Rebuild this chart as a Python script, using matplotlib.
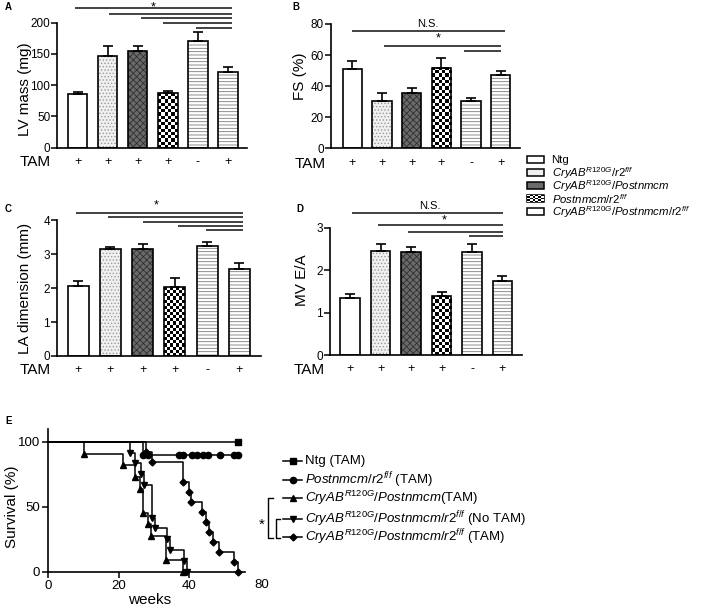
import numpy as np
import matplotlib
matplotlib.use('Agg')
import matplotlib.pyplot as plt
from matplotlib.patches import Rectangle

plt.rcParams['font.family'] = ['Liberation Sans', 'DejaVu Sans']
plt.rcParams['mathtext.fontset'] = 'custom'
plt.rcParams['mathtext.rm'] = 'Liberation Sans'
plt.rcParams['mathtext.it'] = 'Liberation Sans:italic'
plt.rcParams['mathtext.bf'] = 'Liberation Sans:bold'
plt.rcParams['hatch.linewidth'] = 0.6

W, H = 709, 608

# ---- bar panels data ----
tam = ['+', '+', '+', '+', '-', '+']
lv_mass = [86, 147, 154, 88, 171, 121]
lv_mass_sem = [3.6, 15, 9.4, 2.7, 13.6, 7.4]
fs = [51, 30.4, 35.4, 51.5, 30.4, 47.2]
fs_sem = [5.2, 5.4, 3.6, 6.4, 2.2, 2.5]
la_dim = [2.06, 3.15, 3.16, 2.03, 3.24, 2.57]
la_dim_sem = [0.16, 0.07, 0.14, 0.28, 0.13, 0.16]
mv_ea = [1.34, 2.46, 2.43, 1.39, 2.43, 1.75]
mv_ea_sem = [0.09, 0.16, 0.12, 0.10, 0.19, 0.12]

groups = ['Ntg',
          r'$\mathit{CryAB}^{\mathit{R120G}}\mathit{/r2}^{\mathit{f/f}}$',
          r'$\mathit{CryAB}^{\mathit{R120G}}\mathit{/Postnmcm}$',
          r'$\mathit{Postnmcm/r2}^{\mathit{f/f}}$',
          r'$\mathit{CryAB}^{\mathit{R120G}}\mathit{/Postnmcm/r2}^{\mathit{f/f}}$']
bar_group = [0, 1, 2, 3, 4, 4]

# significance bars: (start, end, level)
sig_a = [(-0.1, 5.15, 223), (1.05, 5.15, 214), (2.1, 5.15, 207), (2.85, 5.15, 199), (3.95, 5.15, 192)]
sig_b = [(0.0, 5.16, 75.7), (1.07, 5.0, 66), (3.76, 5.0, 62.6)]
sig_c = [(-0.07, 5.12, 4.23), (0.93, 5.12, 4.11), (2.0, 5.12, 3.96), (3.1, 5.12, 3.84), (3.96, 5.12, 3.72)]
sig_d = [(0.06, 5.03, 3.35), (0.93, 5.03, 3.07), (1.91, 5.03, 2.91), (3.91, 5.03, 2.81)]

# ---- survival data (weeks, % survival) ----
ntg_t = [0, 53.7]
ntg_s = [100, 100]
postn_t = [0, 27.0, 28.3, 37.0, 38.2, 40.8, 42.1, 43.8, 45.4, 48.7, 52.6, 53.7]
postn_s = [100, 90, 90, 90, 90, 90, 90, 90, 90, 90, 90, 90]
cry_t = [0, 10, 21.2, 24.5, 25.9, 27.0, 28.3, 29.2, 33.4, 38.2]
cry_s = [100, 90.9, 81.8, 72.7, 63.6, 45.5, 36.4, 27.3, 9.1, 0]
notam_t = [0, 23.1, 24.6, 26.2, 27.1, 29.4, 30.4, 33.6, 34.4, 38.4, 39.3]
notam_s = [100, 91.7, 83.3, 75.0, 66.7, 41.7, 33.3, 25.0, 16.7, 8.3, 0]
tamko_t = [0, 27.8, 29.4, 38.2, 39.8, 40.5, 43.6, 44.8, 45.7, 46.6, 48.5, 52.6, 53.7]
tamko_s = [100, 92.3, 84.6, 69.2, 61.5, 53.8, 46.2, 38.5, 30.8, 23.1, 15.4, 7.7, 0]

surv_labels = ['Ntg (TAM)',
               r'$\mathit{Postnmcm/r2}^{\mathit{f/f}}$ (TAM)',
               r'$\mathit{CryAB}^{\mathit{R120G}}\mathit{/Postnmcm}$(TAM)',
               r'$\mathit{CryAB}^{\mathit{R120G}}\mathit{/Postnmcm/r2}^{\mathit{f/f}}$ (No TAM)',
               r'$\mathit{CryAB}^{\mathit{R120G}}\mathit{/Postnmcm/r2}^{\mathit{f/f}}$ (TAM)']
surv_curves = [(ntg_t, ntg_s, 's', 4.5), (postn_t, postn_s, 'o', 4.5), (cry_t, cry_s, '^', 4.5),
               (notam_t, notam_s, 'v', 4.5), (tamko_t, tamko_s, 'D', 3.5)]

fig = plt.figure(figsize=(W / 100, H / 100), dpi=100)


def add_ax(l, t, r, b):
    return fig.add_axes([l / W, 1 - b / H, (r - l) / W, (b - t) / H])


def ftext(x, y, s, **kw):
    return fig.text(x / W, 1 - y / H, s, **kw)


def checker(ax, x0, x1, y0, y1, cell=3.2):
    p0 = ax.transData.transform((x0, y0))
    p1 = ax.transData.transform((x1, y1))
    nx = max(1, int(round(abs(p1[0] - p0[0]) / cell)))
    ny = max(1, int(round(abs(p1[1] - p0[1]) / cell)))
    img = np.indices((ny, nx)).sum(axis=0) % 2
    ax.imshow(img, cmap='gray', vmin=0, vmax=1, extent=(x0, x1, min(y0, y1), max(y0, y1)),
              aspect='auto', interpolation='nearest', zorder=2)


styles = [dict(color='white'),
          dict(color='#f0f0f0', hatch='.....', edgecolor='#9a9a9a'),
          dict(color='#6a6a6a', hatch='xxxxx', edgecolor='#303030'),
          'checker',
          dict(color='white', hatch='-----', edgecolor='#7a7a7a')]


def bar_panel(box, xl, ymax, yticks, vals, sems, ylabel, ylab_pos, sigs, letter, tam_pos):
    ax = add_ax(*box)
    ax.set_xlim(*xl)
    ax.set_ylim(0, ymax)
    for i, v in enumerate(vals):
        st = styles[bar_group[i]]
        if st == 'checker':
            checker(ax, i - 0.325, i + 0.325, 0, v)
        else:
            ax.bar(i, v, 0.65, linewidth=0, zorder=2, **st)
        ax.bar(i, v, 0.65, fill=False, edgecolor='black', linewidth=1.2, zorder=3)
    ax.errorbar(range(len(vals)), vals, yerr=[np.zeros(len(vals)), sems], fmt='none',
                ecolor='black', elinewidth=1.2, capsize=3.5, capthick=1.2, zorder=4)
    ax.set_xlim(*xl)
    ax.set_ylim(0, ymax)
    for x0, x1, lvl in sigs:
        ax.plot([x0, x1], [lvl, lvl], color='#222222', lw=1.2, clip_on=False, solid_capstyle='butt')
    for s in ['top', 'right']:
        ax.spines[s].set_visible(False)
    for s in ['left', 'bottom']:
        ax.spines[s].set_linewidth(1.2)
    ax.set_yticks(yticks)
    ax.set_xticks(range(len(vals)))
    ax.set_xticklabels(tam, fontsize=9)
    ax.tick_params(axis='x', length=0, pad=6)
    ax.tick_params(axis='y', length=4, width=1.1, labelsize=8.5, pad=1)
    ftext(ylab_pos[0], ylab_pos[1], ylabel, rotation=90, ha='center', va='center', fontsize=11)
    ftext(letter[1], letter[2], letter[0], fontsize=7, fontweight='bold', ha='left', va='center')
    ftext(tam_pos[0], tam_pos[1], 'TAM', fontsize=11, ha='center', va='center')
    return ax


ax_a = bar_panel((57.3, 22.7, 246.7, 147.7), (-0.68, 5.63), 200, [0, 50, 100, 150, 200],
                 lv_mass, lv_mass_sem, 'LV mass (mg)', (25, 89), sig_a, ('A', 5, 7), (35, 162))
ax_a.text(2.5, 225, '*', ha='center', va='center', fontsize=9, clip_on=False)

ax_b = bar_panel((330.7, 24, 520, 148.3), (-0.73, 5.65), 80, [0, 20, 40, 60, 80],
                 fs, fs_sem, 'FS (%)', (300, 76), sig_b, ('B', 292, 7), (310, 163.5))
ax_b.text(2.55, 80, 'N.S.', ha='center', va='center', fontsize=8, clip_on=False)
ax_b.text(2.9, 70.5, '*', ha='center', va='center', fontsize=9, clip_on=False)

ax_c = bar_panel((57, 220.4, 261, 356), (-0.66, 5.67), 4, [0, 1, 2, 3, 4],
                 la_dim, la_dim_sem, 'LA dimension (mm)', (25, 288), sig_c, ('C', 5, 209), (35, 370))
ax_c.text(2.43, 4.44, '*', ha='center', va='center', fontsize=9, clip_on=False)

ax_d = bar_panel((330, 228, 522, 355), (-0.66, 5.64), 3, [0, 1, 2, 3],
                 mv_ea, mv_ea_sem, 'MV E/A', (302, 280), sig_d, ('D', 296, 209), (309, 369.5))
ax_d.text(2.62, 3.53, 'N.S.', ha='center', va='center', fontsize=8, clip_on=False)
ax_d.text(3.09, 3.18, '*', ha='center', va='center', fontsize=9, clip_on=False)

# ---- overlay axes in pixel coordinates for legends / brackets ----
lax = fig.add_axes([0, 0, 1, 1], zorder=-1)
lax.axis('off')
rows = [159.3, 172.7, 185.5, 198.3, 211.3]
for k, (lab, y) in enumerate(zip(groups, rows)):
    st = styles[k]
    if st == 'checker':
        checker(lax, 527, 544, y + 3.5, y - 3.5, cell=3.0)
    else:
        lax.add_patch(Rectangle((527, y - 3.5), 17, 7, linewidth=0, **st))
    lax.add_patch(Rectangle((527, y - 3.5), 17, 7, fill=False, edgecolor='black', linewidth=1.1))
    lax.text(551.5, y + 0.5, lab, fontsize=8.2, ha='left', va='center')

# survival legend
srows = [460.7, 480, 498.3, 519, 537.3]
for (t, s, m, ms), lab, y in zip(surv_curves, surv_labels, srows):
    lax.plot([283, 302], [y, y], color='black', lw=1.1)
    lax.plot([292.5], [y], marker=m, ms=ms, color='black')
    lax.text(305, y, lab, fontsize=9.5, ha='left', va='center')
# brackets
lax.plot([273, 268.3, 268.3, 273], [498.3, 498.3, 538.3, 538.3], color='black', lw=1.0)
lax.plot([280, 276, 276, 280], [519, 519, 538.3, 538.3], color='black', lw=1.0)
lax.text(261.5, 525, '*', fontsize=11, ha='center', va='center')
lax.set_xlim(0, W)
lax.set_ylim(H, 0)

# ---- survival panel ----
ax_e = add_ax(48.3, 429.3, 245, 571.7)
for t, s, m, ms in surv_curves:
    ax_e.plot(t, s, drawstyle='steps-post', color='black', lw=1.1, clip_on=False)
    ax_e.plot(t[1:], s[1:], ls='none', marker=m, ms=ms, color='black', clip_on=False)
ax_e.set_xlim(0, 55.8)
ax_e.set_ylim(0, 109.6)
ax_e.set_xticks([0, 20, 40])
ax_e.set_yticks([0, 50, 100])
for s in ['top', 'right']:
    ax_e.spines[s].set_visible(False)
for s in ['left', 'bottom']:
    ax_e.spines[s].set_linewidth(1.2)
ax_e.tick_params(length=4, width=1.1, labelsize=9.5, pad=2)
ftext(262, 585.5, '80', fontsize=9.5, ha='center', va='center')
ftext(12, 507, 'Survival (%)', rotation=90, fontsize=11, ha='center', va='center')
ftext(150, 600, 'weeks', fontsize=11, ha='center', va='center')
ftext(5, 421, 'E', fontsize=7, fontweight='bold', ha='left', va='center')

fig.savefig('out.png', dpi=100)
